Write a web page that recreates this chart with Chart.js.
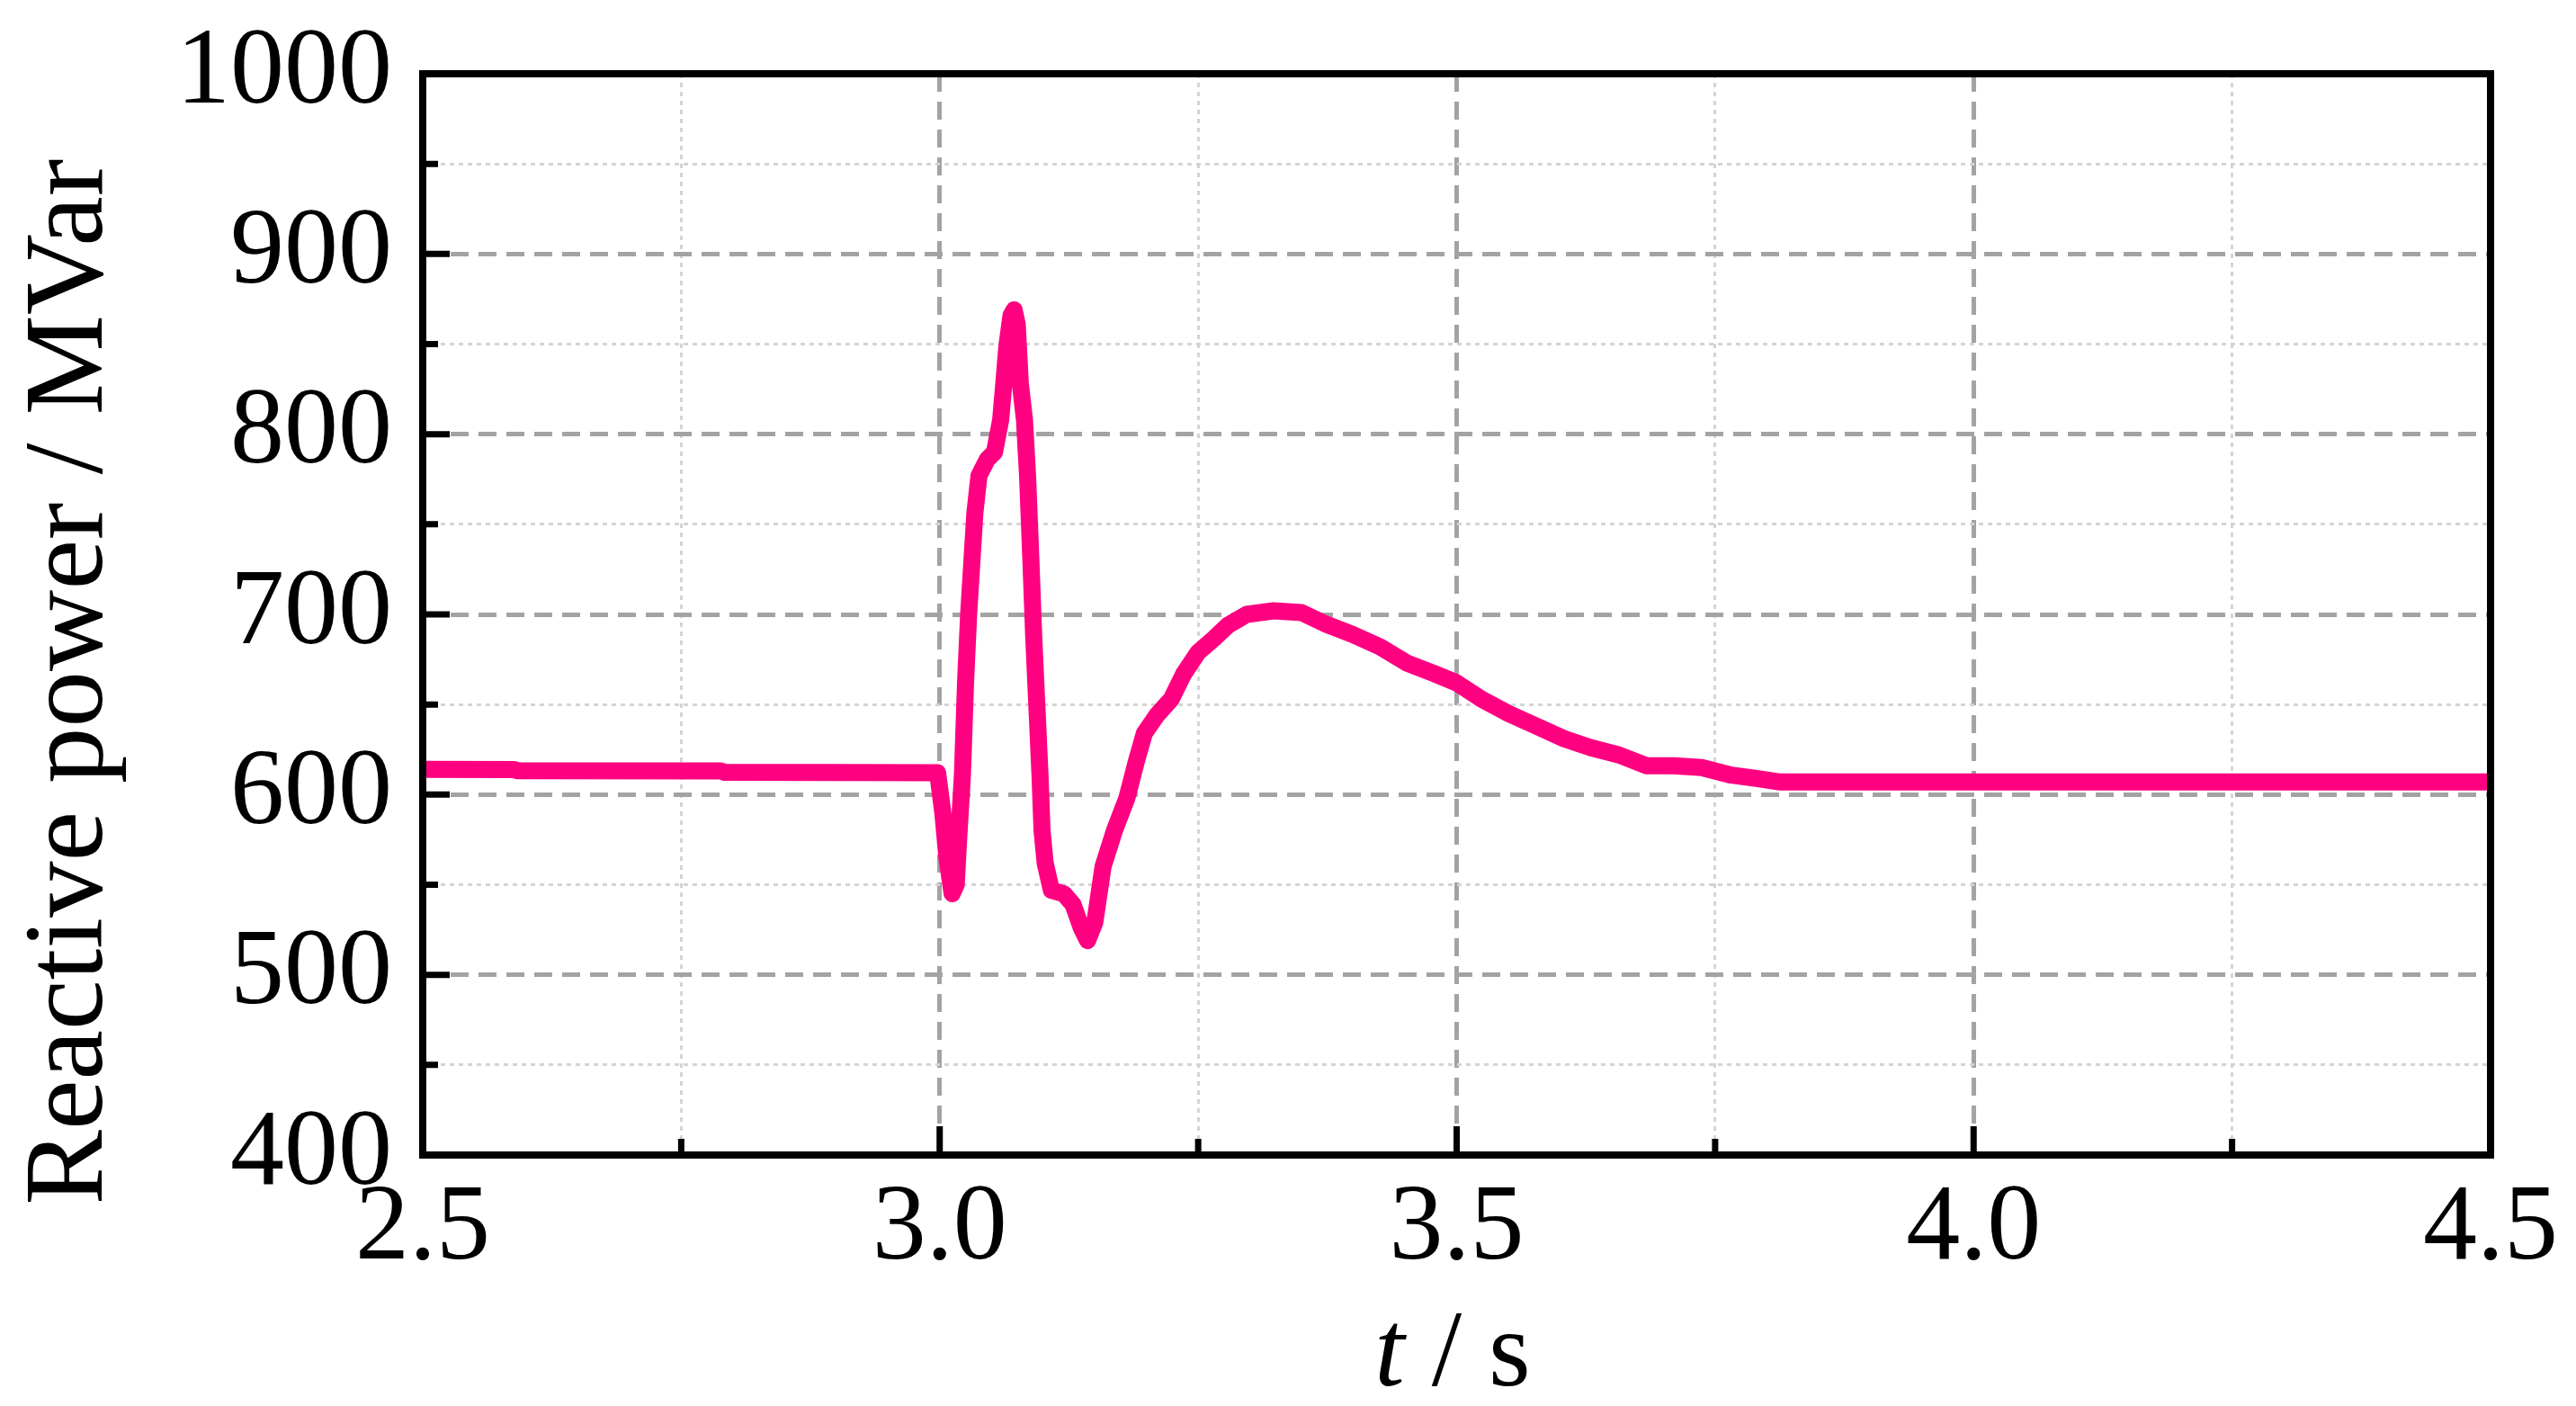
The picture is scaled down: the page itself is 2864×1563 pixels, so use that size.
<!DOCTYPE html>
<html>
<head>
<meta charset="utf-8">
<title>Reactive power</title>
<script src="https://cdn.jsdelivr.net/npm/chart.js@4.4.1/dist/chart.umd.min.js"></script>
<style>
    html, body { margin: 0; padding: 0; background: #fff; }
    #wrap { width: 2864px; height: 1563px; position: relative; }
</style>
</head>
<body>
<div id="wrap"><canvas id="qChart"></canvas></div>
<script>
// Trace: time in s, reactive power in MVar
const timeS = [
    2.500, 2.588, 2.592, 2.788, 2.792, 2.998,
    3.003, 3.007, 3.012, 3.016, 3.018, 3.022, 3.025, 3.028, 3.031, 3.034,
    3.038, 3.046, 3.053, 3.059, 3.062, 3.065, 3.069, 3.072, 3.075, 3.078,
    3.082, 3.085, 3.088, 3.091, 3.094, 3.097, 3.099, 3.102, 3.108, 3.120,
    3.129, 3.137, 3.143, 3.150, 3.158, 3.169, 3.181, 3.190, 3.198, 3.210,
    3.224, 3.236, 3.250, 3.266, 3.279, 3.297, 3.323, 3.350, 3.372, 3.399,
    3.426, 3.452, 3.479, 3.500, 3.524, 3.550, 3.577, 3.604, 3.630, 3.657,
    3.684, 3.710, 3.737, 3.764, 3.790, 3.813, 4.500
];
const reactivePower = [
    614.0, 613.9, 613.3, 613.2, 612.4, 612.2,
    590, 565, 545, 550, 572, 611, 662, 700, 728, 756,
    777, 786, 790, 808, 828, 849, 866, 869, 861, 828,
    808, 777, 733, 687, 649, 611, 580, 562, 547, 545,
    539, 526, 519, 529, 560, 580, 598, 618, 634, 644,
    653, 667, 679, 687, 694, 700, 702, 701, 695, 689,
    682, 673, 667, 662, 653, 645, 638, 631, 626, 622,
    616, 616, 615, 611, 609, 607, 607
];

// Labelled ticks (the 50 MVar / 0.25 s steps in between are minor)
const yMajor = [400, 500, 600, 700, 800, 900, 1000];
const xMajor = [2.5, 3.0, 3.5, 4.0, 4.5];

const SERIF = "'Liberation Serif', 'Times New Roman', serif";

function isMajorY(v) { return yMajor.some(m => Math.abs(m - v) < 1e-6); }
function isMajorX(v) { return xMajor.some(m => Math.abs(m - v) < 1e-6); }

// box, inward tick marks and axis titles
const frameAndTitles = {
    id: 'frameAndTitles',
    afterDraw(chart) {
        const { ctx, chartArea: a, scales: { x, y } } = chart;
        ctx.save();
        ctx.strokeStyle = '#000';
        ctx.lineCap = 'butt';

        ctx.lineWidth = 7;
        ctx.beginPath();
        y.ticks.forEach(t => {
            if (t.value <= y.min || t.value >= y.max) return;
            const py = y.getPixelForValue(t.value);
            const len = isMajorY(t.value) ? 30 : 17;
            ctx.moveTo(a.left, py);
            ctx.lineTo(a.left + len, py);
        });
        x.ticks.forEach(t => {
            if (t.value <= x.min || t.value >= x.max) return;
            const px = x.getPixelForValue(t.value);
            const len = isMajorX(t.value) ? 32 : 18;
            ctx.moveTo(px, a.bottom);
            ctx.lineTo(px, a.bottom - len);
        });
        ctx.stroke();

        ctx.lineWidth = 8;
        ctx.lineJoin = 'miter';
        ctx.strokeRect(a.left, a.top, a.right - a.left, a.bottom - a.top);

        // y title
        ctx.fillStyle = '#000';
        ctx.font = '125px ' + SERIF;
        ctx.textAlign = 'center';
        ctx.textBaseline = 'alphabetic';
        ctx.save();
        ctx.translate(113, 758);
        ctx.rotate(-Math.PI / 2);
        ctx.fillText('Reactive power / MVar', 0, 0);
        ctx.restore();

        // x title, italic t
        const italic = 'italic 120px ' + SERIF;
        const upright = '120px ' + SERIF;
        ctx.textAlign = 'left';
        ctx.font = italic;
        const wT = ctx.measureText('t').width;
        ctx.font = upright;
        const wRest = ctx.measureText(' / s').width;
        const x0 = 1615 - (wT + wRest) / 2;
        ctx.font = italic;
        ctx.fillText('t', x0, 1540);
        ctx.font = upright;
        ctx.fillText(' / s', x0 + wT, 1540);
        ctx.restore();
    }
};

const points = timeS.map((t, i) => ({ x: t, y: reactivePower[i] }));

const qChart = new Chart(document.getElementById('qChart').getContext('2d'), {
    type: 'line',
    data: {
        datasets: [{
            label: 'Reactive power',
            data: points,
            borderColor: '#ff0080',
            borderWidth: 19,
            borderJoinStyle: 'round',
            borderCapStyle: 'round',
            pointRadius: 0,
            tension: 0,
            clip: 0
        }, {
            label: 'core',
            data: points,
            borderColor: 'rgba(255, 0, 0, 0.8)',
            borderWidth: 4,
            pointRadius: 0,
            tension: 0,
            clip: 0
        }]
    },
    options: {
        responsive: true,
        maintainAspectRatio: false,
        animation: false,
        devicePixelRatio: 1,
        layout: { padding: { left: 0, right: 95, top: 82, bottom: 0 } },
        plugins: {
            legend: { display: false },
            title: { display: false },
            tooltip: { enabled: false }
        },
        scales: {
            x: {
                type: 'linear',
                min: 2.5,
                max: 4.5,
                afterFit: s => {
                    s.height = 279;
                    s.paddingLeft = 0;
                    s.paddingRight = 0;
                },
                ticks: {
                    stepSize: 0.25,
                    autoSkip: false,
                    maxRotation: 0,
                    padding: 11,
                    color: '#000',
                    font: { family: SERIF, size: 120 },
                    callback: v => isMajorX(v) ? v.toFixed(1) : ''
                },
                grid: {
                    drawTicks: false,
                    color: c => (c.tick && isMajorX(c.tick.value)) ? '#a3a3a3' : '#d4d4d4',
                    lineWidth: c => (c.tick && isMajorX(c.tick.value)) ? 5 : 3
                },
                border: {
                    display: false,
                    dash: c => (c.tick && isMajorX(c.tick.value)) ? [20, 11] : [5, 5]
                }
            },
            y: {
                type: 'linear',
                min: 400,
                max: 1000,
                afterFit: s => {
                    s.width = 470;
                    s.paddingTop = 0;
                    s.paddingBottom = 0;
                },
                ticks: {
                    stepSize: 50,
                    autoSkip: false,
                    padding: 34,
                    color: '#000',
                    font: { family: SERIF, size: 120 },
                    callback: v => isMajorY(v) ? String(v) : ''
                },
                grid: {
                    drawTicks: false,
                    color: c => (c.tick && isMajorY(c.tick.value)) ? '#a3a3a3' : '#d4d4d4',
                    lineWidth: c => (c.tick && isMajorY(c.tick.value)) ? 5 : 3
                },
                border: {
                    display: false,
                    dash: c => (c.tick && isMajorY(c.tick.value)) ? [20, 11] : [5, 5]
                }
            }
        }
    },
    plugins: [frameAndTitles]
});
</script>
</body>
</html>
